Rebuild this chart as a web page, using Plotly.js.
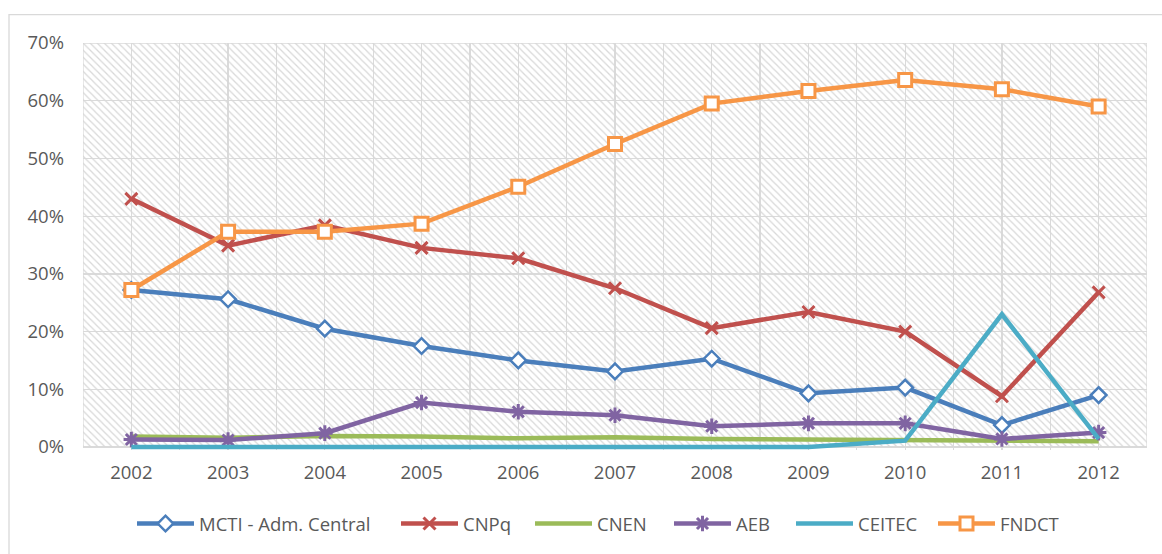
<!DOCTYPE html>
<html>
<head>
<meta charset="utf-8">
<script src="https://cdn.plot.ly/plotly-3.0.1.min.js"></script>
<style>
  html, body { margin: 0; padding: 0; background: #ffffff; }
  #chart { width: 1162px; height: 554px; }
</style>
</head>
<body>
<div id="chart"></div>
<script>
// ---- Data ----
const years = [2002, 2003, 2004, 2005, 2006, 2007, 2008, 2009, 2010, 2011, 2012];
const seriesNames = ["MCTI - Adm. Central", "CNPq", "CNEN", "AEB", "CEITEC", "FNDCT"];
const mcti   = [27.2, 25.6, 20.5, 17.5, 15.0, 13.1, 15.3, 9.3, 10.3, 3.8, 9.0];
const cnpq   = [43.0, 34.9, 38.4, 34.5, 32.7, 27.5, 20.6, 23.4, 20.0, 8.8, 26.8];
const cnen   = [1.8, 1.6, 1.9, 1.8, 1.5, 1.7, 1.4, 1.3, 1.2, 1.1, 1.0];
const aeb    = [1.3, 1.2, 2.4, 7.7, 6.1, 5.5, 3.6, 4.1, 4.1, 1.4, 2.5];
const ceitec = [0, 0, 0, 0, 0, 0, 0, 0, 1.1, 23.0, 1.4];
const fndct  = [27.2, 37.3, 37.3, 38.7, 45.1, 52.5, 59.5, 61.7, 63.6, 62.0, 59.0];
const yTickVals = [0, 10, 20, 30, 40, 50, 60, 70];

// ---- Axis extents ----
const X_MIN = 2001.5, X_MAX = 2012.5, Y_MIN = 0, Y_MAX = 70;

const FONT = "'Open Sans', 'Noto Sans', sans-serif";
const TXT = "#595959";
const GRID = "#dadada";

const colors = ["#4a7ebb", "#c0504d", "#9bbb59", "#8064a2", "#4bacc6", "#f79646"];
const values = [mcti, cnpq, cnen, aeb, ceitec, fndct];
const markers = [
  {symbol: "diamond", size: 12, color: "#ffffff", line: {color: colors[0], width: 2.5}},
  {symbol: "x-thin", size: 12, color: colors[1], line: {color: colors[1], width: 3}},
  null,
  {symbol: "asterisk", size: 13, color: colors[3], line: {color: colors[3], width: 3}},
  null,
  {symbol: "square", size: 13, color: "#ffffff", line: {color: colors[5], width: 3}}
];

// plot area in pixels (y=0 sits at pixel 448; a few px below stay visible for the 0-valued line)
const L = 83, R = 15, T = 43, B = 103;
const W = 1162 - L - R, H = 554 - T - B;
const pxPerUnit = 405 / (Y_MAX - Y_MIN);
const Y_LOW = Y_MIN - (554 - B - 448) / pxPerUnit;
const px2paperX = px => (px - L) / W;
const px2paperY = py => (554 - B - py) / H;

// hatched plot-area background
const traces = [{
  type: "scatter",
  x: [X_MIN, X_MAX, X_MAX, X_MIN, X_MIN],
  y: [Y_MIN, Y_MIN, Y_MAX, Y_MAX, Y_MIN],
  mode: "lines",
  fill: "toself",
  fillcolor: "rgba(0,0,0,0)",
  fillpattern: {shape: "\\", fgcolor: "#d8d8d8", bgcolor: "rgba(0,0,0,0)", size: 5, solidity: 0.25},
  line: {width: 0, color: "rgba(0,0,0,0)"},
  hoverinfo: "skip",
  showlegend: false
}];

const legendStarts = [137, 401, 535, 674, 796, 938]; // px positions of legend items
const legendIds = ["legend", "legend2", "legend3", "legend4", "legend5", "legend6"];

seriesNames.forEach((name, i) => {
  const t = {
    type: "scatter",
    name: name,
    x: years,
    y: values[i],
    mode: markers[i] ? "lines+markers" : "lines",
    line: {color: colors[i], width: 4.5},
    legend: legendIds[i]
  };
  if (markers[i]) t.marker = markers[i];
  traces.push(t);
});

const layout = {
  width: 1162,
  height: 554,
  margin: {l: L, r: R, t: T, b: B, pad: 0},
  paper_bgcolor: "#ffffff",
  plot_bgcolor: "#ffffff",
  font: {family: FONT, size: 18.5, color: TXT},
  xaxis: {
    range: [X_MIN, X_MAX],
    tickvals: years,
    ticktext: years.map(String),
    showgrid: true,
    gridcolor: GRID,
    gridwidth: 1.3,
    minor: {dtick: 0.5, tick0: X_MIN, showgrid: true, gridcolor: GRID, gridwidth: 1.3},
    zeroline: false,
    showline: false,
    ticks: "",
    ticklabelstandoff: 9,
    tickfont: {family: FONT, size: 18.5, color: TXT},
    fixedrange: true
  },
  yaxis: {
    range: [Y_LOW, Y_MAX],
    tickvals: yTickVals,
    ticktext: yTickVals.map(v => v + "%"),
    showgrid: true,
    gridcolor: GRID,
    gridwidth: 1.3,
    zeroline: false,
    showline: false,
    ticks: "",
    ticklabelstandoff: 18,
    tickfont: {family: FONT, size: 18.5, color: TXT},
    fixedrange: true
  },
  shapes: [
    {
      type: "rect",
      xref: "x", yref: "y",
      x0: X_MIN, x1: X_MAX, y0: Y_MIN, y1: Y_MAX,
      line: {color: GRID, width: 1.3},
      fillcolor: "rgba(0,0,0,0)",
      layer: "below"
    },
    {
      type: "rect",
      xref: "paper", yref: "paper",
      x0: px2paperX(9), x1: px2paperX(1175),
      y0: px2paperY(570), y1: px2paperY(14.5),
      line: {color: "#d9d9d9", width: 1.3},
      fillcolor: "rgba(0,0,0,0)",
      layer: "below"
    }
  ],
  showlegend: true
};

legendIds.forEach((id, i) => {
  layout[id] = {
    orientation: "h",
    x: px2paperX(legendStarts[i] - 5),
    xanchor: "left",
    y: px2paperY(524),
    yanchor: "middle",
    bgcolor: "rgba(0,0,0,0)",
    borderwidth: 0,
    itemwidth: 57,
    font: {family: FONT, size: 18.5, color: TXT},
    itemclick: false,
    itemdoubleclick: false
  };
});

Plotly.newPlot("chart", traces, layout, {displayModeBar: false, staticPlot: true});
</script>
</body>
</html>
